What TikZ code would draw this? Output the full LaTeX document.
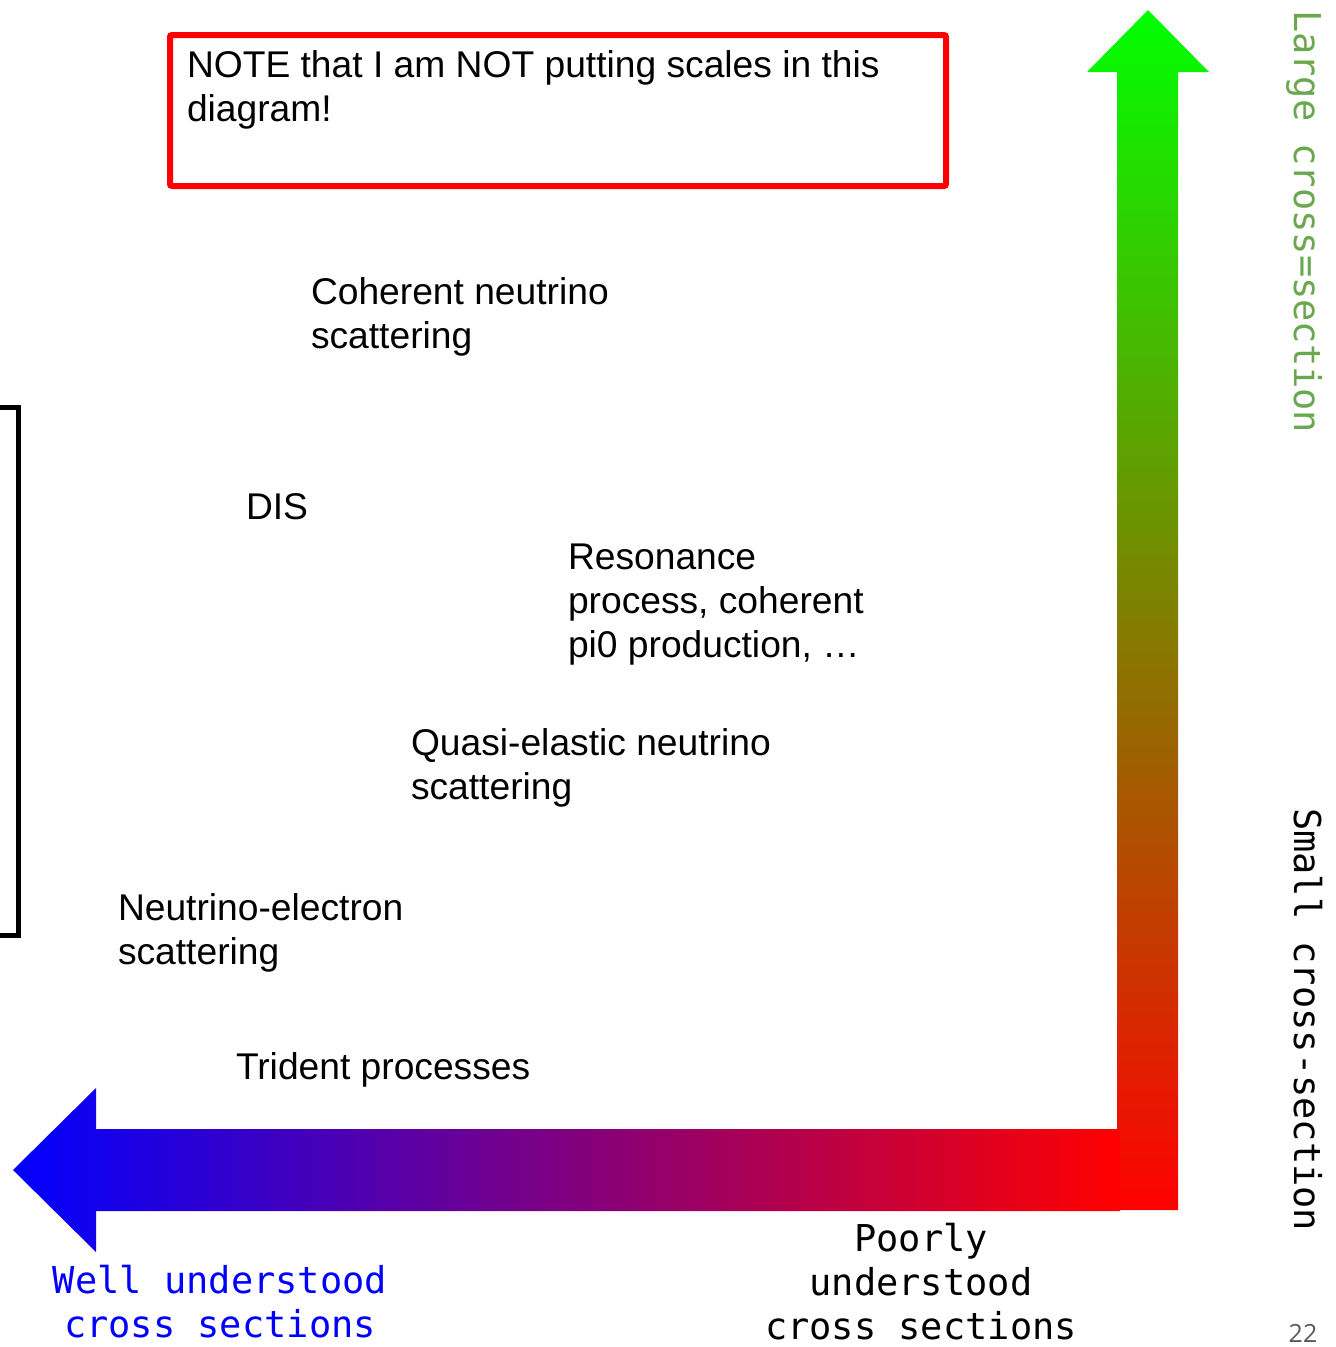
\documentclass[tikz,border=0pt]{standalone}
\usepackage{fontspec}
\setmainfont{Liberation Sans}
\newfontfamily\codefont{DejaVu Sans Mono}
\newfontfamily\numfont{Open Sans}
\usepackage{xcolor}
\usetikzlibrary{positioning}
\definecolor{labelgreen}{RGB}{106, 168, 79}
\definecolor{labelblue}{RGB}{0, 0, 255}
\definecolor{pagegray}{RGB}{89, 89, 89}

\begin{document}
\begin{tikzpicture}[
  x=1pt, y=-1pt,
  every node/.style={inner sep=0pt, outer sep=0pt},
  proc/.style={font=\fontsize{37.2}{44}\selectfont, align=left, anchor=base west},
  axislabel/.style={font=\codefont\fontsize{37}{44}\selectfont, align=center, anchor=base},
  sidelabel/.style={font=\codefont\fontsize{37}{44}\selectfont, rotate=-90, anchor=base west},
  notebox/.style={draw=red, line width=6pt, rounded corners=2pt, minimum width=776pt, minimum height=151pt},
  bracket/.style={draw=black, line width=5pt}
]
  \useasboundingbox (0,0) rectangle (1336,1347);
  \fill[white] (0,0) rectangle (1336,1347);

  % Hinweis oben (Anker = Grundlinie der letzten Zeile)
  \node[notebox] (note) at (558,110.5) {};
  \node[proc] (notetext) at (187,121) {NOTE that I am NOT putting scales in this\\diagram!};

  % Prozesse
  \node[proc] (coh) at (311,348) {Coherent neutrino\\scattering};
  \node[proc] (dis) at (246,519) {DIS};
  \node[proc] (res) at (568,657) {Resonance\\process, coherent\\pi0 production, \dots};
  \node[proc] (qe) at (411,799) {Quasi-elastic neutrino\\scattering};
  \node[proc] (nue) at (118,964) {Neutrino-electron\\scattering};
  \node[proc] (tri) at (236,1079) {Trident processes};

  % Klammer links
  \draw[bracket] (-5,407) -- (18,407) -- (18,935) -- (-5,935);

  % Pfeile
  \shade[top color=green, bottom color=red]
    (1117,1210) -- (1117,72) -- (1087,72) -- (1148,10) -- (1209,72) -- (1178,72) -- (1178,1210) -- cycle;
  \shade[left color=blue, right color=red]
    (1120,1129) -- (96,1129) -- (96,1088) -- (13,1170) -- (96,1252) -- (96,1211) -- (1120,1211) -- cycle;

  % Achsenbeschriftungen
  \node[axislabel, text=labelblue] (well) at (220,1337) {Well understood\\cross sections};
  \node[axislabel] (poor) at (921,1339) {Poorly\\understood\\cross sections};
  \node[sidelabel, text=labelgreen] (large) at (1294,10) {Large cross=section};
  \node[sidelabel] (small) at (1294,808) {Small cross-section};

  % Seitenzahl
  \node[font=\numfont\fontsize{25}{30}\selectfont, text=pagegray, anchor=base] (page) at (1303,1342) {22};
\end{tikzpicture}
\end{document}
